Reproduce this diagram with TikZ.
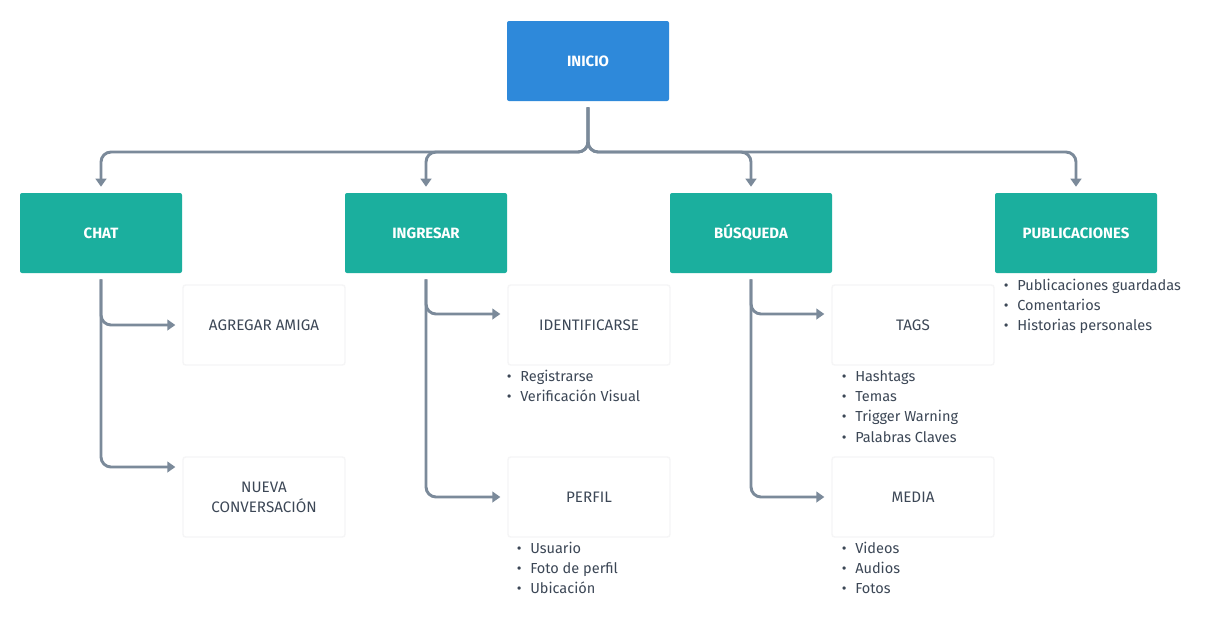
\documentclass[tikz,border=0pt]{standalone}
\usepackage{fontspec}
\setmainfont{Fira Sans}
\usetikzlibrary{arrows.meta}
\definecolor{inicioblue}{RGB}{46,137,218}
\definecolor{tealbox}{RGB}{27,175,158}
\definecolor{linegray}{RGB}{123,138,154}
\definecolor{textdark}{RGB}{60,71,86}
\definecolor{faintline}{RGB}{245,245,246}
\begin{document}
\begin{tikzpicture}[x=0.75pt,y=-0.75pt,
  mainbox/.style={rectangle, rounded corners=1.5pt, minimum width=121.5pt, minimum height=60pt,
    inner sep=0pt, text=white, font=\bfseries\fontsize{11.2}{13}\selectfont, text height=8pt, text depth=0pt},
  subbox/.style={rectangle, rounded corners=2pt, minimum width=121.5pt, minimum height=60pt,
    inner sep=0pt, fill=white, draw=faintline, line width=1pt, text=textdark,
    font=\fontsize{11.4}{15}\selectfont, align=center},
  item/.style={anchor=base west, inner sep=0pt, text=textdark, font=\fontsize{10.9}{15}\selectfont},
  conn/.style={draw=linegray, line width=2.2pt, rounded corners=7.5pt,
    -{Triangle[length=6pt,width=8pt]}}
]
\useasboundingbox (0,0) rectangle (1208,619);
\fill[white] (0,0) rectangle (1208,619);

% main boxes
\node[mainbox, fill=inicioblue] (inicio) at (588,61) {INICIO};
\node[mainbox, fill=tealbox] (chat) at (101,233) {CHAT};
\node[mainbox, fill=tealbox] (ingresar) at (426,233) {INGRESAR};
\node[mainbox, fill=tealbox] (busqueda) at (751,233) {BÚSQUEDA};
\node[mainbox, fill=tealbox] (publicaciones) at (1076,233) {PUBLICACIONES};

% sub boxes
\node[subbox, text height=7.8pt, text depth=0pt] (agregar) at (264,325) {AGREGAR AMIGA};
\node[subbox] (nueva) at (264,497) {NUEVA\\CONVERSACIÓN};
\node[subbox, text height=7.8pt, text depth=0pt] (identificarse) at (589,325) {IDENTIFICARSE};
\node[subbox, text height=7.8pt, text depth=0pt] (perfil) at (589,497) {PERFIL};
\node[subbox, text height=7.8pt, text depth=0pt] (tags) at (913,325) {TAGS};
\node[subbox, text height=7.8pt, text depth=0pt] (media) at (913,497) {MEDIA};

% top bus
\coordinate (busy) at (0,152);
\draw[conn] ([yshift=-4.5pt]inicio.south) |- (chat.north |- busy) -- ([yshift=4.5pt]chat.north);
\draw[conn] ([yshift=-4.5pt]inicio.south) |- (ingresar.north |- busy) -- ([yshift=4.5pt]ingresar.north);
\draw[conn] ([yshift=-4.5pt]inicio.south) |- (busqueda.north |- busy) -- ([yshift=4.5pt]busqueda.north);
\draw[conn] ([yshift=-4.5pt]inicio.south) |- (publicaciones.north |- busy) -- ([yshift=4.5pt]publicaciones.north);

% chat branches
\draw[conn] ([yshift=-4.5pt]chat.south) |- ([xshift=-5.25pt]agregar.west);
\draw[conn] ([yshift=-4.5pt]chat.south) |- ([xshift=-5.25pt,yshift=22.5pt]nueva.west);
% ingresar branches
\draw[conn] ([yshift=-4.5pt]ingresar.south) |- ([xshift=-5.25pt,yshift=8.25pt]identificarse.west);
\draw[conn] ([yshift=-4.5pt]ingresar.south) |- ([xshift=-5.25pt]perfil.west);
% busqueda branches
\draw[conn] ([yshift=-4.5pt]busqueda.south) |- ([xshift=-5.25pt,yshift=8.25pt]tags.west);
\draw[conn] ([yshift=-4.5pt]busqueda.south) |- ([xshift=-5.25pt]media.west);

% bullet lists
\newcommand{\bul}{\llap{•\hspace{6.5pt}}}
\foreach \t [count=\i] in {Registrarse, Verificación Visual}
  \node[item] (idl\i) at (520,{381+(\i-1)*20.4}) {\bul\t};
\foreach \t [count=\i] in {Usuario, Foto de perfil, Ubicación}
  \node[item] (pel\i) at (530,{553+(\i-1)*20.4}) {\bul\t};
\foreach \t [count=\i] in {Hashtags, Temas, Trigger Warning, Palabras Claves}
  \node[item] (tal\i) at (855,{381+(\i-1)*20.4}) {\bul\t};
\foreach \t [count=\i] in {Videos, Audios, Fotos}
  \node[item] (mel\i) at (855,{553+(\i-1)*20.4}) {\bul\t};
\foreach \t [count=\i] in {Publicaciones guardadas, Comentarios, Historias personales}
  \node[item] (pul\i) at (1017,{290+(\i-1)*20.4}) {\bul\t};
\end{tikzpicture}
\end{document}
